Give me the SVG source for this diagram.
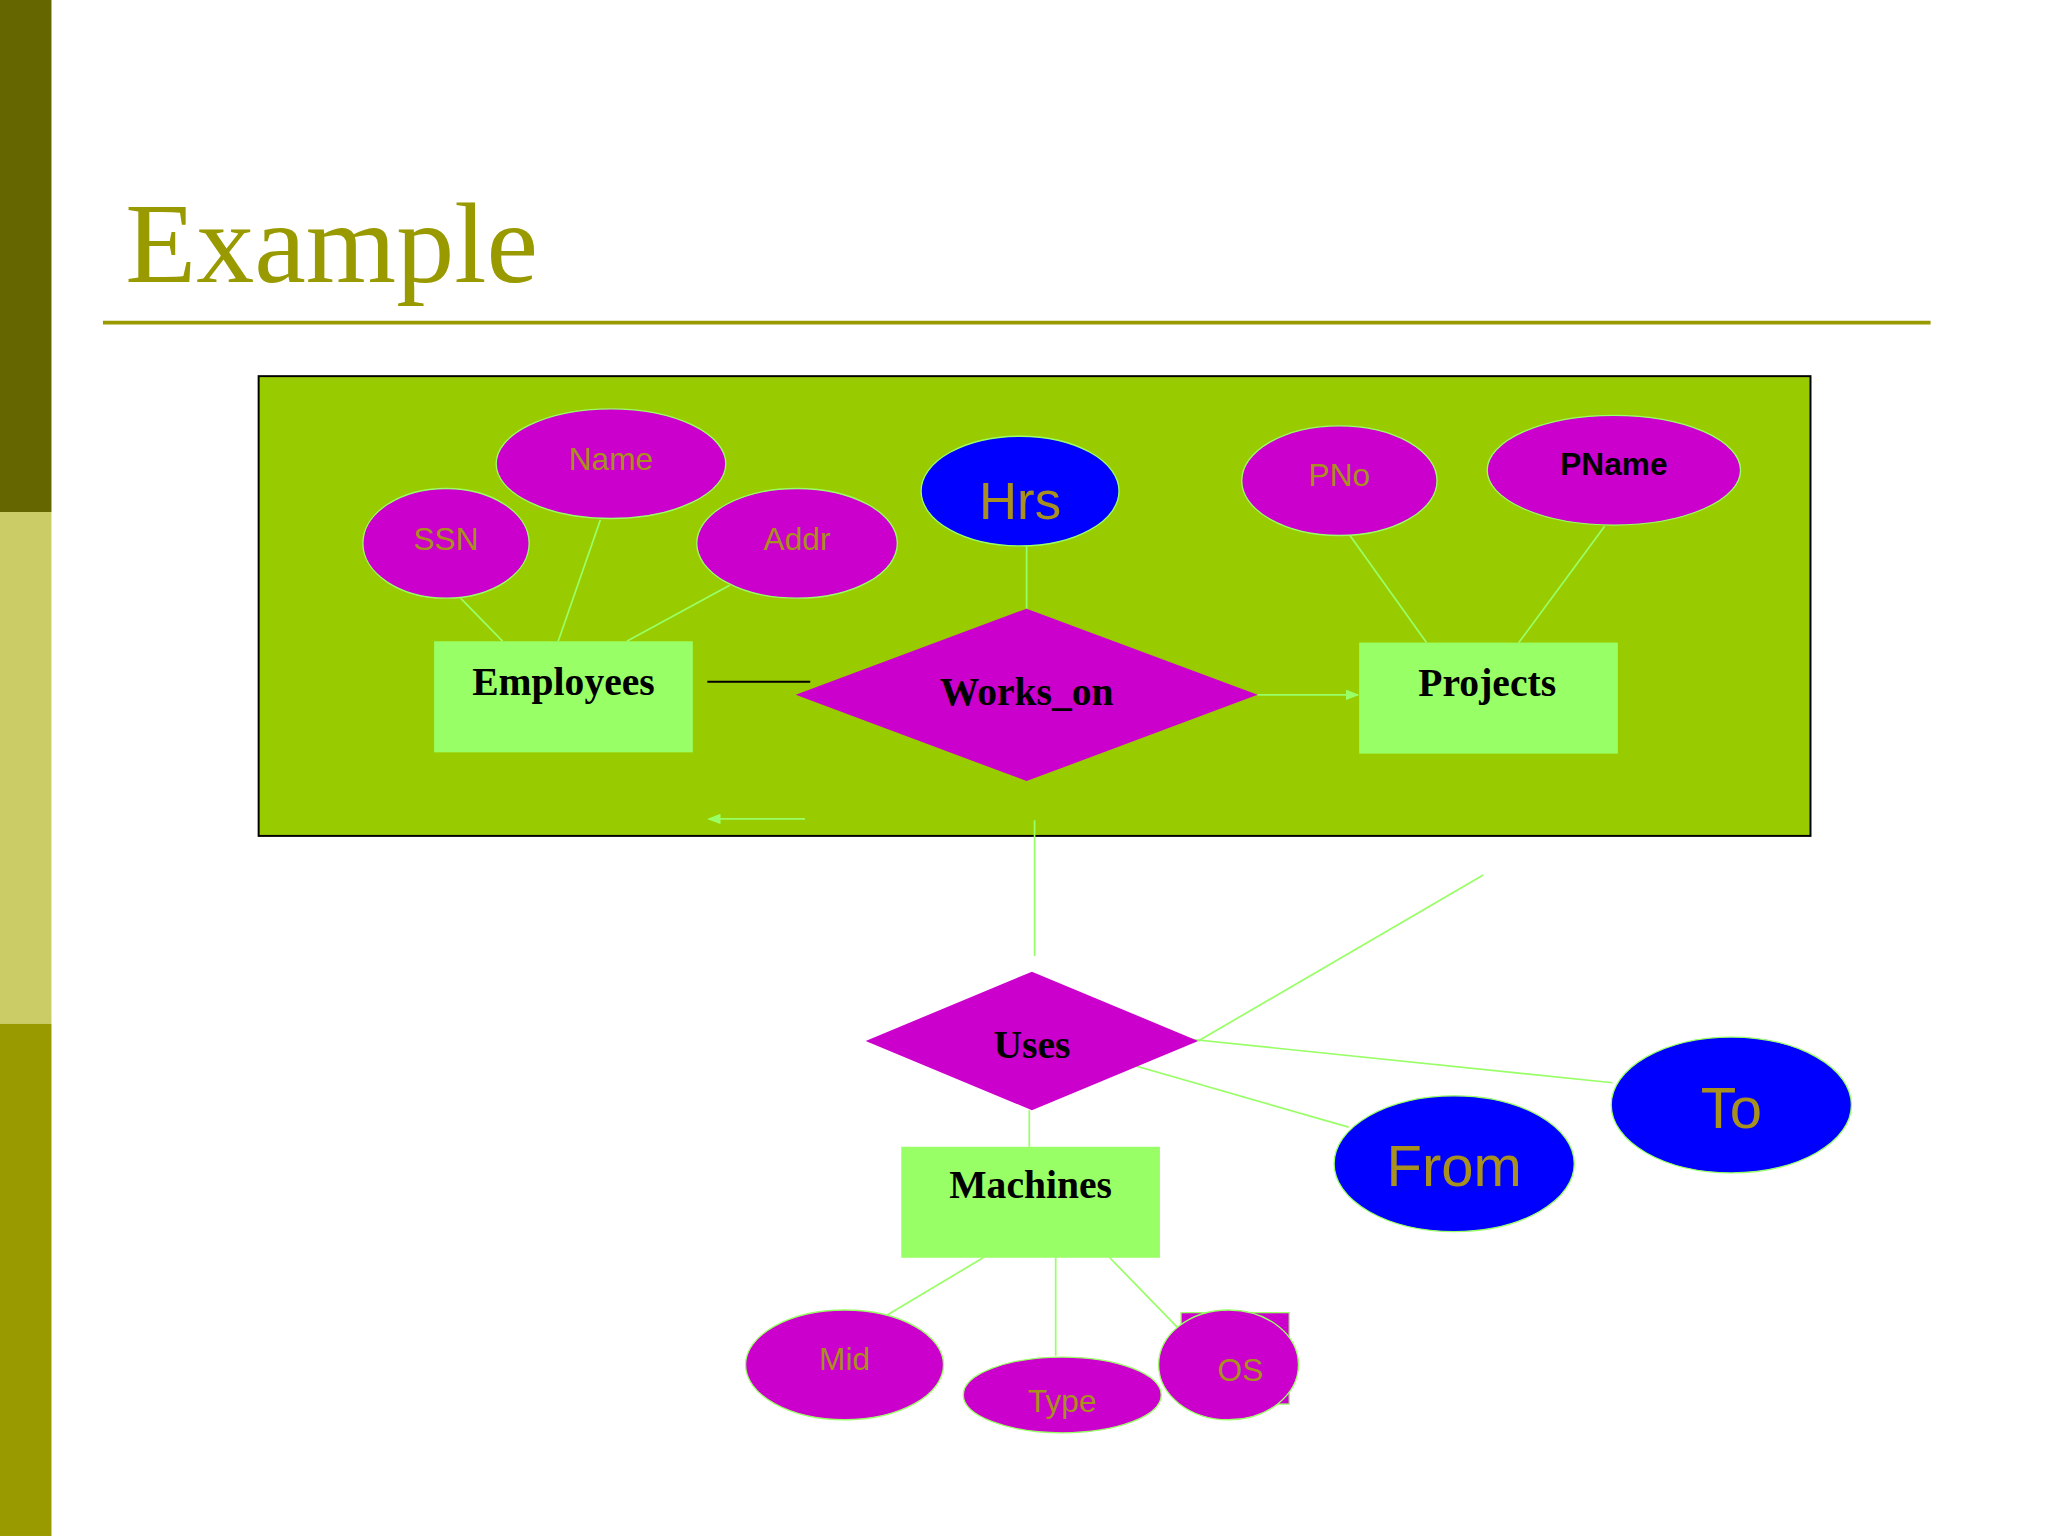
<svg xmlns="http://www.w3.org/2000/svg" width="2048" height="1536" viewBox="0 0 2048 1536">
<style>
.attr{fill:#CC00CC;stroke:#99FF66;stroke-width:1}
.blue{fill:#0000FF;stroke:#99FF66;stroke-width:1}
.ent{fill:#99FF66}
.at{font-family:"Liberation Sans",Arial,sans-serif;fill:#A8901E;text-anchor:middle}
.et{font-family:"Liberation Serif","Times New Roman",serif;font-weight:bold;font-size:30px;fill:#000;text-anchor:middle}
.ln{stroke:#99FF66;stroke-width:1.3;fill:none}
</style>
<defs>
<marker id="ah" markerWidth="10" markerHeight="8" refX="9" refY="4" orient="auto" markerUnits="userSpaceOnUse"><path d="M0,0 L10,4 L0,8 z" fill="#99FF66"/></marker>
</defs>
<rect width="2048" height="1536" fill="#fff"/>
<g transform="scale(1.3196,1.3061)">
<rect x="0" y="0" width="39" height="392" fill="#666600"/>
<rect x="0" y="392" width="39" height="392" fill="#CCCC66"/>
<rect x="0" y="784" width="39" height="392" fill="#999900"/>
<text x="95" y="216" font-family="Liberation Serif,serif" font-size="88" fill="#999900">Example</text>
<line x1="78" y1="247" x2="1463" y2="247" stroke="#999900" stroke-width="3"/>
<rect x="196" y="288" width="1176" height="352" fill="#99CC00" stroke="#000" stroke-width="1.5"/>
<g id="connectors">
<line class="ln" x1="349" y1="458" x2="381" y2="491"/>
<line class="ln" x1="455" y1="398" x2="423" y2="491"/>
<line class="ln" x1="553" y1="448" x2="475" y2="491"/>
<line class="ln" x1="778" y1="418" x2="778" y2="466"/>
<line class="ln" x1="1018" y1="403" x2="1081" y2="492"/>
<line class="ln" x1="1216" y1="403" x2="1151" y2="492"/>
<line x1="536" y1="522" x2="614" y2="522" stroke="#000" stroke-width="1.5"/>
<line class="ln" x1="953" y1="532" x2="1029" y2="532" marker-end="url(#ah)"/>
<line class="ln" x1="610" y1="627" x2="537" y2="627" marker-end="url(#ah)"/>
<line class="ln" x1="784" y1="628" x2="784" y2="732"/>
<line class="ln" x1="908" y1="797" x2="1124" y2="670"/>
<line class="ln" x1="876" y1="793" x2="1222" y2="829"/>
<line class="ln" x1="843" y1="811" x2="1022" y2="863"/>
<line class="ln" x1="780" y1="850" x2="780" y2="878"/>
<line class="ln" x1="745" y1="963" x2="672" y2="1007"/>
<line class="ln" x1="800" y1="963" x2="800" y2="1038"/>
<line class="ln" x1="841" y1="963" x2="893" y2="1017"/>
</g>
<g id="ssn"><ellipse class="attr" cx="338" cy="416" rx="63" ry="42"/><text class="at" x="338" y="421" font-size="24">SSN</text></g>
<g id="name"><ellipse class="attr" cx="463" cy="355" rx="87" ry="42"/><text class="at" x="463" y="360" font-size="24">Name</text></g>
<g id="addr"><ellipse class="attr" cx="604" cy="416" rx="76" ry="42"/><text class="at" x="604" y="421" font-size="24">Addr</text></g>
<g id="hrs"><ellipse class="blue" cx="773" cy="376" rx="75" ry="42"/><text class="at" x="773" y="397" font-size="40">Hrs</text></g>
<g id="pno"><ellipse class="attr" cx="1015" cy="368" rx="74" ry="42"/><text class="at" x="1015" y="372" font-size="24">PNo</text></g>
<g id="pname"><ellipse class="attr" cx="1223" cy="360" rx="96" ry="42"/><text class="at" x="1223" y="364" font-size="24" font-weight="bold" fill="#000" style="fill:#000">PName</text></g>
<g id="employees"><rect class="ent" x="329" y="491" width="196" height="85"/><text class="et" x="427" y="532">Employees</text></g>
<g id="works_on"><polygon points="603,532 778,466 953,532 778,598" fill="#CC00CC"/><text class="et" x="778" y="540">Works_on</text></g>
<g id="projects"><rect class="ent" x="1030" y="492" width="196" height="85"/><text class="et" x="1127" y="533">Projects</text></g>
<g id="uses"><polygon points="656,797 782,744 908,797 782,850" fill="#CC00CC"/><text class="et" x="782" y="810">Uses</text></g>
<g id="machines"><rect class="ent" x="683" y="878" width="196" height="85"/><text class="et" x="781" y="917">Machines</text></g>
<g id="from"><ellipse class="blue" cx="1102" cy="891" rx="91" ry="52"/><text class="at" x="1102" y="908" font-size="44">From</text></g>
<g id="to"><ellipse class="blue" cx="1312" cy="846" rx="91" ry="52"/><text class="at" x="1312" y="864" font-size="44">To</text></g>
<g id="mid"><ellipse class="attr" cx="640" cy="1045" rx="75" ry="42"/><text class="at" x="640" y="1049" font-size="24">Mid</text></g>
<g id="type"><ellipse class="attr" cx="805" cy="1068" rx="75" ry="29"/><text class="at" x="805" y="1081" font-size="24">Type</text></g>
<g id="os"><rect class="attr" x="895" y="1005" width="82" height="70"/><ellipse class="attr" cx="931" cy="1045" rx="53" ry="42"/><text class="at" x="940" y="1057" font-size="24">OS</text></g>
</g>
</svg>
